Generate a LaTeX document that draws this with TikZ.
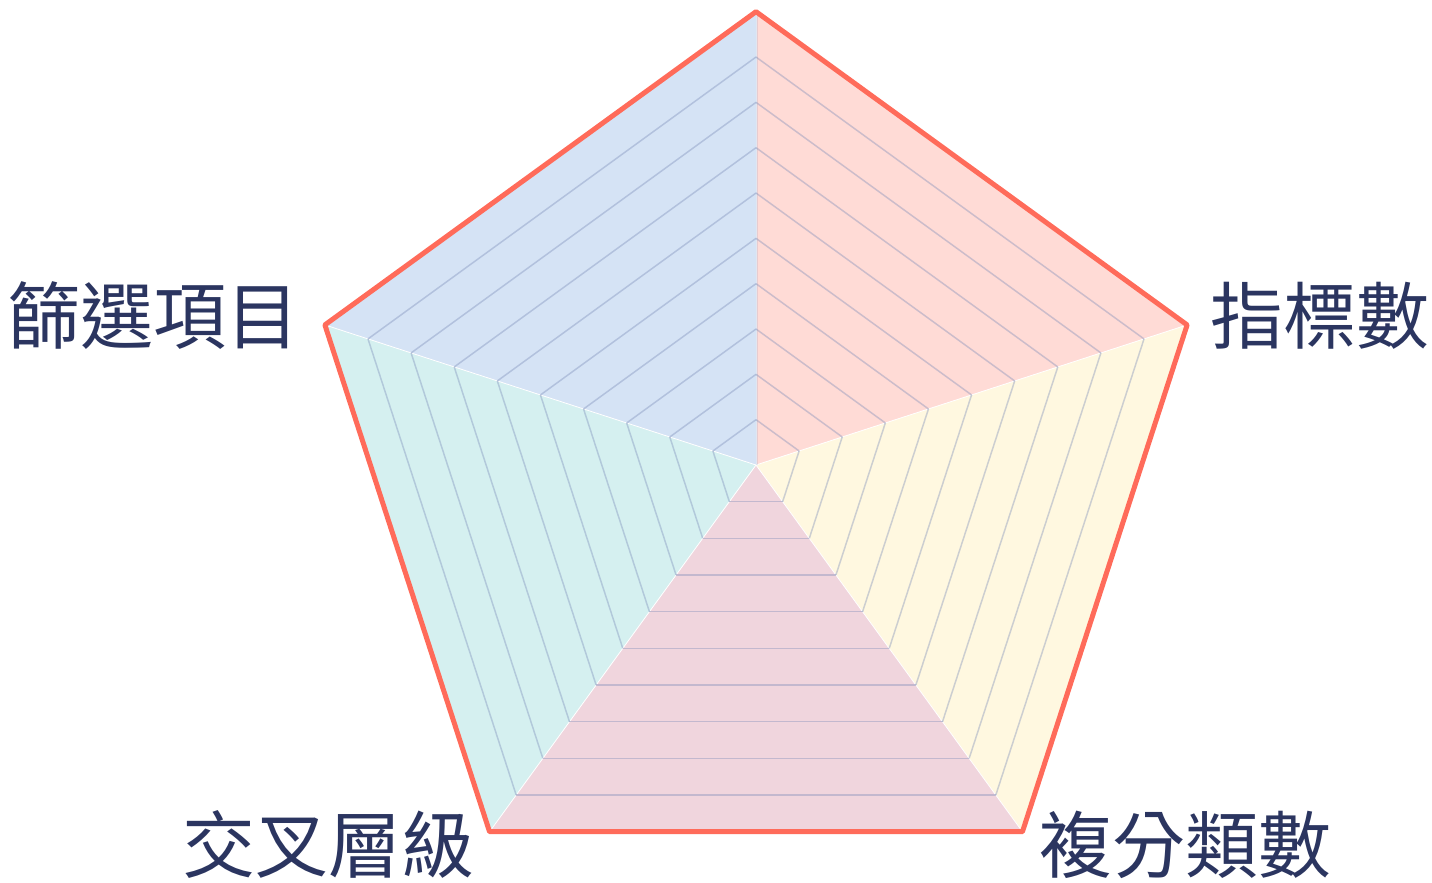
\documentclass[tikz,border=0pt]{standalone}
\usepackage{fontspec}
\newfontfamily\cjk{Noto Sans CJK TC}
\usetikzlibrary{calc}
\definecolor{cTR}{HTML}{FFDBD6}
\definecolor{cR}{HTML}{FFF8E0}
\definecolor{cB}{HTML}{F0D5DD}
\definecolor{cL}{HTML}{D5F0F0}
\definecolor{cTL}{HTML}{D5E3F5}
\definecolor{gridc}{HTML}{7A8BB8}
\definecolor{border}{HTML}{FF6B5A}
\definecolor{txt}{HTML}{2B3560}
\begin{document}
\begin{tikzpicture}[x=1pt,y=1pt,
  sector/.style={draw=white,line width=0.8pt},
  gridline/.style={draw=gridc,draw opacity=0.38,line width=1.5pt},
  outline/.style={draw=border,line width=5pt,line join=round},
  lbl/.style={text=txt,font=\cjk\fontsize{73}{88}\selectfont,inner sep=0pt}]
\useasboundingbox (0,0) rectangle (1432,883);
\def\R{453.3}
\coordinate (C) at (756,418);
\foreach \k/\col in {0/cTR,1/cR,2/cB,3/cL,4/cTL}{
  \pgfmathsetmacro{\aA}{90-72*\k}
  \pgfmathsetmacro{\aB}{90-72*(\k+1)}
  \fill[\col] (C) -- ($(C)+(\aA:\R)$) -- ($(C)+(\aB:\R)$) -- cycle;
  \draw[sector] (C) -- ($(C)+(\aA:\R)$);
}
\foreach \k in {0,...,4}{
  \pgfmathsetmacro{\aA}{90-72*\k}
  \pgfmathsetmacro{\aB}{90-72*(\k+1)}
  \foreach \j in {1,...,9}{
    \draw[gridline] ($(C)+(\aA:\j*\R/10)$) -- ($(C)+(\aB:\j*\R/10)$);
  }
}
\draw[gridline,draw opacity=0.18] ($(C)+(0.8,0)$) -- ($(C)+(90:\R)+(0.8,0)$);
\draw[outline] ($(C)+(90:\R)$) -- ($(C)+(18:\R)$) -- ($(C)+(-54:\R)$) -- ($(C)+(-126:\R)$) -- ($(C)+(162:\R)$) -- cycle;
\node[lbl] (l1) at (153,567) {篩選項目};
\node[lbl] (l2) at (1320,567) {指標數};
\node[lbl] (l3) at (1185,38) {複分類數};
\node[lbl] (l4) at (328,38) {交叉層級};
\end{tikzpicture}
\end{document}
